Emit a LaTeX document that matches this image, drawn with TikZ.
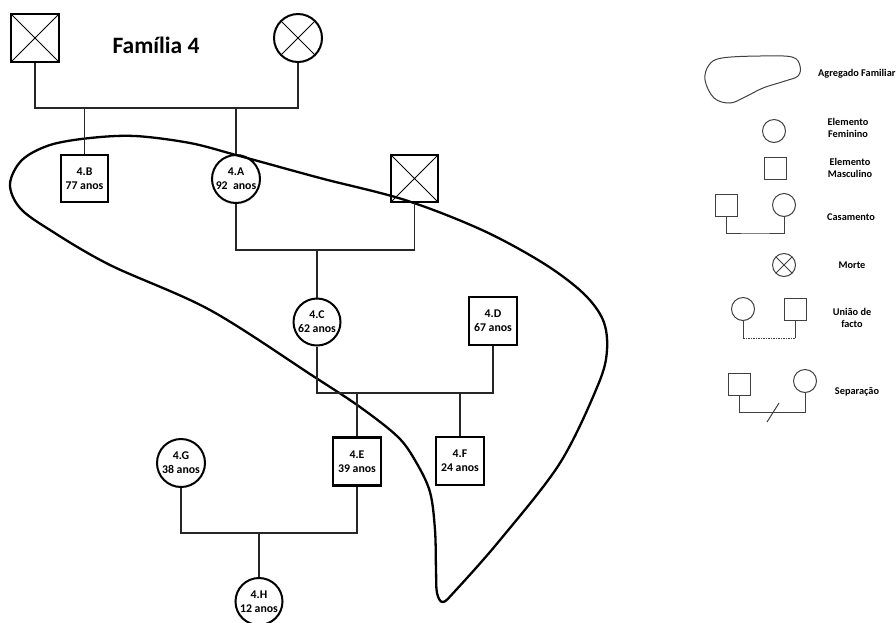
\documentclass[tikz,border=0pt]{standalone}
\usepackage{fontspec}
\setmainfont{Carlito}
\begin{document}
\begin{tikzpicture}[x=1pt,y=-1pt,
  nodefont/.style={font=\bfseries\fontsize{11.8}{14}\selectfont},
  male/.style={draw, rectangle, line width=2.4pt, minimum size=47pt, inner sep=0pt, align=center, nodefont},
  female/.style={draw, circle, line width=2pt, minimum size=47pt, inner sep=0pt, align=center, nodefont},
  deceased/.style={path picture={\draw[line width=0.9pt] (path picture bounding box.north west) -- (path picture bounding box.south east) (path picture bounding box.north east) -- (path picture bounding box.south west);}},
  conn/.style={line width=1.1pt, draw=black!85},
  lmale/.style={draw=black!75, rectangle, line width=1pt, minimum size=22pt, inner sep=0pt},
  lfemale/.style={draw=black!75, circle, line width=1pt, minimum size=23pt, inner sep=0pt},
  lconn/.style={line width=1pt, draw=black!75},
  ltext/.style={font=\bfseries\fontsize{10.3}{12.5}\selectfont, align=center, inner sep=0pt},
  household/.style={line width=2.3pt, draw=black}
]
\useasboundingbox (0,0) rectangle (896,622);

% household curve
\draw[household] plot[smooth cycle, tension=0.55] coordinates {
 (10,184) (22,160) (50,145) (90,138) (135,136) (190,143) (236,155) (320,178)
 (405,200) (482,230) (543,263) (583,293) (603,320) (607,350) (598,385)
 (560,463) (500,540) (456,590) (443,602) (437,593) (436,570) (435,530)
 (430,492) (416,462) (398,437) (360,407) (313,376) (210,310) (110,265)
 (50,230) (20,208)};

% title
\node[font=\bfseries\fontsize{23.5}{28}\selectfont, inner sep=0pt] (title) at (156,45) {Família 4};

% generation 1
\node[male, deceased, minimum size=48pt] (gf) at (35,38) {};
\node[female, deceased, minimum size=48pt] (gm) at (298,38) {};
% generation 2
\node[male] (B) at (84.5,178.5) {4.B\\77 anos};
\node[female, minimum size=48pt] (A) at (236,179) {4.A\\92~ anos};
\node[male, deceased] (Ah) at (414.5,178.5) {};
% generation 3
\node[female] (C) at (317,322) {4.C\\62 anos};
\node[male, minimum size=48pt] (D) at (493,321) {4.D\\67 anos};
% generation 4
\node[male, minimum size=48pt] (E) at (357,461.5) {4.E\\39 anos};
\node[male, minimum size=48pt] (F) at (460,461) {4.F\\24 anos};
\node[female, minimum size=48pt] (G) at (181,463) {4.G\\38 anos};
% generation 5
\node[female] (H) at (259,601.5) {4.H\\12 anos};

% junctions
\coordinate (j1) at (160,108);
\coordinate (j2) at (317,250);
\coordinate (j3) at (400,393);
\coordinate (j4) at (260,533);

\draw[conn] (gf.south) |- (j1) -| (gm.south);
\draw[conn] (B.north) -- (B.north |- j1);
\draw[conn] (A.north) -- (A.north |- j1);

\draw[conn] (A.south) |- (j2) -| (Ah.south);
\draw[conn] (C.north) -- (C.north |- j2);

\draw[conn] (C.south) |- (j3) -| (D.south);
\draw[conn] (E.north) -- (E.north |- j3);
\draw[conn] (F.north) -- (F.north |- j3);

\draw[conn] (G.south) |- (j4) -| (E.south);
\draw[conn] (H.north) -- (H.north |- j4);

% ---------------- legend ----------------
\draw[lconn] plot[smooth cycle, tension=0.6] coordinates {
 (705,80) (709,65) (722,58) (760,56) (792,57) (800,66) (798,76) (785,81)
 (763,88) (745,97) (730,103) (714,98)};
\node[ltext, anchor=west] (tagr) at (818,74) {Agregado Familiar};

\node[lfemale] (lf) at (774,131) {};
\node[ltext] (tfem) at (848,128) {Elemento\\Feminino};

\node[lmale] (lm) at (775,168) {};
\node[ltext] (tmas) at (850,168) {Elemento\\Masculino};

\node[lmale] (cs) at (726,205.5) {};
\node[lfemale] (cc) at (784,205) {};
\coordinate (cj) at (755,233);
\draw[lconn] (cs.south) |- (cj) -| (cc.south);
\node[ltext] (tcas) at (851,217) {Casamento};

\node[lfemale, deceased] (lmorte) at (784,265) {};
\node[ltext] (tmor) at (852,265) {Morte};

\node[lfemale] (uc) at (743,309) {};
\node[lmale] (us) at (795,309.5) {};
\coordinate (uj) at (769,338);
\draw[lconn] (uc.south) -- (uc.south |- uj);
\draw[lconn] (us.south) -- (us.south |- uj);
\draw[lconn, dash pattern=on 1.5pt off 1pt] (uc.south |- uj) -- (us.south |- uj);
\node[ltext] (tuni) at (852,318) {União de\\facto};

\node[lmale] (ss) at (739.5,384) {};
\node[lfemale] (sc) at (805,381) {};
\coordinate (sj) at (773,412);
\draw[lconn] (ss.south) |- (sj) -| (sc.south);
\draw[lconn] (sj) ++(-6,10) -- ++(12,-19);
\node[ltext] (tsep) at (857,392) {Separação};
\end{tikzpicture}
\end{document}
